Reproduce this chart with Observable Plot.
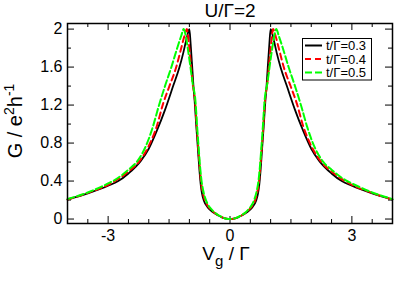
<!DOCTYPE html>
<html><head><meta charset="utf-8">
<script src="https://cdn.jsdelivr.net/npm/d3@7"></script>
<script src="https://cdn.jsdelivr.net/npm/@observablehq/plot@0.6"></script>
<style>
html,body{margin:0;padding:0;background:#fff;}
#chart{position:relative;width:395px;height:284px;}
svg{font-family:"Liberation Sans",Arial,Helvetica,sans-serif;}
</style></head><body><div id="chart"></div>
<script>
const titleText = "U/Γ=2";
const seriesNames = ["t/Γ=0.3", "t/Γ=0.4", "t/Γ=0.5"];
const seriesColors = ["#000000", "#ff0000", "#00ff00"];
const seriesDash = [null, "6,4", "7,3"];

// t/Γ=0.3
const vBlack = [-4,-3.5,-3,-2.75,-2.5,-2.2,-2,-1.8,-1.6,-1.4,-1.25,-1.15,-1.08,-1.02,-1,
  -0.97,-0.93,-0.9,-0.87,-0.83,-0.79,-0.75,-0.72,-0.69,-0.64,-0.56,-0.47,-0.38,-0.3,-0.2,-0.1,
  0,
  0.1,0.2,0.3,0.38,0.47,0.56,0.64,0.69,0.72,0.75,0.79,0.83,0.87,0.9,0.93,0.97,
  1,1.02,1.08,1.15,1.25,1.4,1.6,1.8,2,2.2,2.5,2.75,3,3.5,4];
const gBlack = [0.205,0.27,0.35,0.40,0.48,0.61,0.74,0.93,1.15,1.40,1.59,1.75,1.88,1.98,2.0,
  1.85,1.6,1.4,1.24,0.98,0.74,0.50,0.36,0.27,0.19,0.13,0.09,0.06,0.04,0.018,0.005,
  0,
  0.005,0.018,0.04,0.06,0.09,0.13,0.19,0.27,0.36,0.50,0.74,0.98,1.24,1.4,1.6,1.85,
  2.0,1.98,1.88,1.75,1.59,1.40,1.15,0.93,0.74,0.61,0.48,0.40,0.35,0.27,0.205];

// t/Γ=0.4
const vRed = [-4,-3.5,-3,-2.5,-2.23,-2,-1.8,-1.65,-1.5,-1.33,-1.2,-1.12,-1.06,
  -1.02,-0.97,-0.92,-0.86,-0.82,-0.78,-0.74,-0.71,-0.67,-0.62,-0.55,-0.46,-0.37,-0.29,-0.19,-0.09,
  0,
  0.09,0.19,0.29,0.37,0.46,0.55,0.62,0.67,0.71,0.74,0.78,0.82,0.86,0.92,0.97,1.02,
  1.06,1.12,1.2,1.33,1.5,1.65,1.8,2,2.23,2.5,3,3.5,4];
const gRed = [0.205,0.275,0.36,0.50,0.61,0.77,0.98,1.21,1.39,1.59,1.80,1.93,2.0,
  1.88,1.66,1.43,1.24,0.98,0.74,0.52,0.38,0.28,0.20,0.14,0.095,0.062,0.04,0.018,0.004,
  0,
  0.004,0.018,0.04,0.062,0.095,0.14,0.20,0.28,0.38,0.52,0.74,0.98,1.24,1.43,1.66,1.88,
  2.0,1.93,1.80,1.59,1.39,1.21,0.98,0.77,0.61,0.50,0.36,0.275,0.205];

// t/Γ=0.5
const vGreen = [-4,-3.5,-3,-2.84,-2.5,-2.28,-2.04,-1.9,-1.76,-1.6,-1.45,-1.3,-1.2,-1.14,
  -1.1,-1.04,-0.98,-0.92,-0.85,-0.81,-0.77,-0.73,-0.7,-0.66,-0.61,-0.54,-0.45,-0.37,-0.28,-0.18,-0.09,
  0,
  0.09,0.18,0.28,0.37,0.45,0.54,0.61,0.66,0.7,0.73,0.77,0.81,0.85,0.92,0.98,1.04,1.1,
  1.14,1.2,1.3,1.45,1.6,1.76,1.9,2.04,2.28,2.5,2.84,3,3.5,4];
const gGreen = [0.21,0.28,0.375,0.41,0.52,0.61,0.80,0.97,1.18,1.40,1.59,1.80,1.93,2.0,
  1.95,1.8,1.62,1.43,1.24,0.98,0.74,0.52,0.40,0.30,0.22,0.15,0.10,0.065,0.04,0.017,0.004,
  0,
  0.004,0.017,0.04,0.065,0.10,0.15,0.22,0.30,0.40,0.52,0.74,0.98,1.24,1.43,1.62,1.8,1.95,
  2.0,1.93,1.80,1.59,1.40,1.18,0.97,0.80,0.61,0.52,0.41,0.375,0.28,0.21];

const xMajor = [-3, 0, 3];
const xMinor = [-3.5,-2.5,-2,-1.5,-1,-0.5,0.5,1,1.5,2,2.5,3.5];
const yMajor = [0, 0.4, 0.8, 1.2, 1.6, 2];
const yMinor = [0.2, 0.6, 1.0, 1.4, 1.8];

const rows = [];
[[vBlack, gBlack], [vRed, gRed], [vGreen, gGreen]].forEach(([vs, gs], i) =>
  vs.forEach((v, j) => rows.push({series: seriesNames[i], v, g: gs[j]})));

const W = 395, H = 284, mL = 67, mR = 3, mT = 23, mB = 61;
const fw = W - mL - mR, fh = H - mT - mB;
const MAJ = 7, MIN = 4;
const font = "Liberation Sans, Arial, Helvetica, sans-serif";

const lineMarks = seriesNames.map((s, i) => Plot.line(rows.filter(r => r.series === s), {
  x: "v", y: "g", stroke: seriesColors[i], strokeWidth: i === 0 ? 1.8 : 2,
  strokeDasharray: seriesDash[i], curve: "monotone-x"
}));

const plot = Plot.plot({
  width: W, height: H,
  marginLeft: mL, marginRight: mR, marginTop: mT, marginBottom: mB,
  style: {fontFamily: font, background: "white"},
  x: {domain: [-4, 4]},
  y: {domain: [-0.047, 2.059]},
  marks: [
    Plot.tickX(xMajor, {x: d => d, insetTop: fh - MAJ, stroke: "#000"}),
    Plot.tickX(xMajor, {x: d => d, insetBottom: fh - MAJ, stroke: "#000"}),
    Plot.tickX(xMinor, {x: d => d, insetTop: fh - MIN, stroke: "#000"}),
    Plot.tickX(xMinor, {x: d => d, insetBottom: fh - MIN, stroke: "#000"}),
    Plot.tickY(yMajor, {y: d => d, insetRight: fw - MAJ, stroke: "#000"}),
    Plot.tickY(yMajor, {y: d => d, insetLeft: fw - MAJ, stroke: "#000"}),
    Plot.tickY(yMinor, {y: d => d, insetRight: fw - MIN, stroke: "#000"}),
    Plot.tickY(yMinor, {y: d => d, insetLeft: fw - MIN, stroke: "#000"}),
    Plot.axisX(xMajor, {tickSize: 0, tickPadding: 6, fontSize: 16, label: null, tickFormat: d => String(d)}),
    Plot.axisY(yMajor, {tickSize: 0, tickPadding: 5, fontSize: 16, label: null, tickFormat: d => String(d)}),
    ...lineMarks,
    Plot.frame({stroke: "#000", strokeWidth: 1.5})
  ]
});

const svg = d3.select(plot);
svg.append("text").attr("x", 230).attr("y", 17).attr("text-anchor", "middle")
  .attr("font-size", 19).attr("fill", "#000").text(titleText);

const xl = svg.append("text").attr("x", 226).attr("y", 260).attr("text-anchor", "middle")
  .attr("font-size", 19).attr("fill", "#000");
xl.append("tspan").text("V");
xl.append("tspan").attr("font-size", 15).attr("dy", 6).text("g");
xl.append("tspan").attr("dy", -6).text(" / Γ");

const yl = svg.append("text").attr("transform", "translate(22,121) rotate(-90)")
  .attr("text-anchor", "middle").attr("font-size", 20).attr("fill", "#000");
yl.append("tspan").text("G / e");
yl.append("tspan").attr("font-size", 14).attr("dy", -8).text("2");
yl.append("tspan").attr("dy", 8).text("h");
yl.append("tspan").attr("font-size", 14).attr("dy", -8).text("-1");

const lg = svg.append("g");
lg.append("rect").attr("x", 302.5).attr("y", 38.5).attr("width", 69).attr("height", 41.5)
  .attr("fill", "white").attr("stroke", "#000").attr("stroke-width", 1);
seriesNames.forEach((s, i) => {
  const yy = 45.5 + i * 13.5;
  lg.append("line").attr("x1", 305).attr("x2", 322).attr("y1", yy).attr("y2", yy)
    .attr("stroke", seriesColors[i]).attr("stroke-width", 2)
    .attr("stroke-dasharray", seriesDash[i]);
  lg.append("text").attr("x", 326).attr("y", yy).attr("dy", "0.36em")
    .attr("text-anchor", "start")
    .attr("font-size", 13).attr("fill", "#000").text(s);
});

document.getElementById("chart").appendChild(plot);
</script>
</body></html>
